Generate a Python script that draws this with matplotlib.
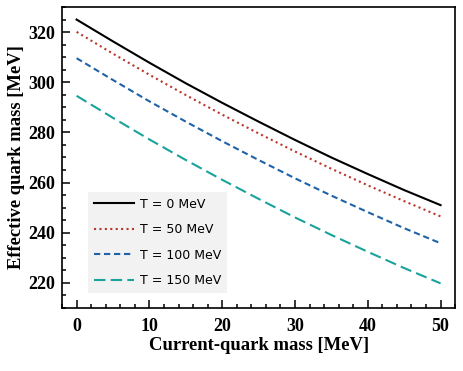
import numpy as np
import matplotlib
matplotlib.use("Agg")
import matplotlib.pyplot as plt
from matplotlib.ticker import MultipleLocator

# current-quark mass [MeV]
m_cur = [0, 5, 10, 15, 20, 25, 30, 35, 40, 45, 50]

# effective quark mass [MeV] for each temperature
M_T0 = [325.0, 316.3, 307.8, 299.6, 291.8, 284.3, 277.0, 270.0, 263.4, 257.0, 251.0]
M_T50 = [320.1, 311.4, 303.0, 294.9, 287.1, 279.6, 272.4, 265.5, 258.9, 252.6, 246.5]
M_T100 = [309.6, 300.9, 292.4, 284.3, 276.5, 269.0, 261.7, 254.8, 248.2, 241.8, 235.8]
M_T150 = [294.6, 285.8, 277.2, 269.0, 261.1, 253.5, 246.1, 239.1, 232.4, 225.9, 219.8]

labels = ["T = 0 MeV", "T = 50 MeV", "T = 100 MeV", "T = 150 MeV"]

serif = ["Liberation Serif", "DejaVu Serif"]

fig = plt.figure(figsize=(4.63, 3.71), dpi=100)
ax = fig.add_axes([0.134, 0.170, 0.849, 0.811])

ax.plot(m_cur, M_T0, color="black", lw=1.5, ls="-", label=labels[0])
ax.plot(m_cur, M_T50, color="#b8372a", lw=1.5, ls=(0, (1, 1.6)), label=labels[1])
ax.plot(m_cur, M_T100, color="#1f62a8", lw=1.5, ls=(0, (3, 1.8)), label=labels[2])
ax.plot(m_cur, M_T150, color="#19a39c", lw=1.5, ls=(0, (5.5, 2.5)), label=labels[3])

ax.set_xlim(-2, 52)
ax.set_ylim(210, 330)
ax.xaxis.set_major_locator(MultipleLocator(10))
ax.xaxis.set_minor_locator(MultipleLocator(2))
ax.yaxis.set_major_locator(MultipleLocator(20))
ax.yaxis.set_minor_locator(MultipleLocator(5))
ax.tick_params(which="both", direction="in", top=False, right=False, width=1.1)
ax.tick_params(which="major", length=6, pad=5)
ax.tick_params(axis="x", which="major", pad=7)
ax.tick_params(which="minor", length=3)
for sp in ax.spines.values():
    sp.set_linewidth(1.2)

for lab in ax.get_xticklabels() + ax.get_yticklabels():
    lab.set_fontfamily(serif)
    lab.set_fontweight("bold")
    lab.set_fontsize(13)

ax.set_xlabel("Current-quark mass [MeV]", fontfamily=serif, fontweight="bold",
              fontsize=13.4, labelpad=2)
ax.set_ylabel("Effective quark mass [MeV]", fontfamily=serif, fontweight="bold",
              fontsize=13.4, labelpad=2)

leg = ax.legend(loc="lower left", bbox_to_anchor=(0.066, 0.05), borderaxespad=0,
                frameon=True, fancybox=False, facecolor="#f2f2f2", edgecolor="none",
                framealpha=1, prop={"family": "DejaVu Sans", "size": 9},
                handlelength=3.2, handletextpad=0.5, labelspacing=1.0,
                borderpad=0.45)

fig.savefig("out.png", dpi=100)
